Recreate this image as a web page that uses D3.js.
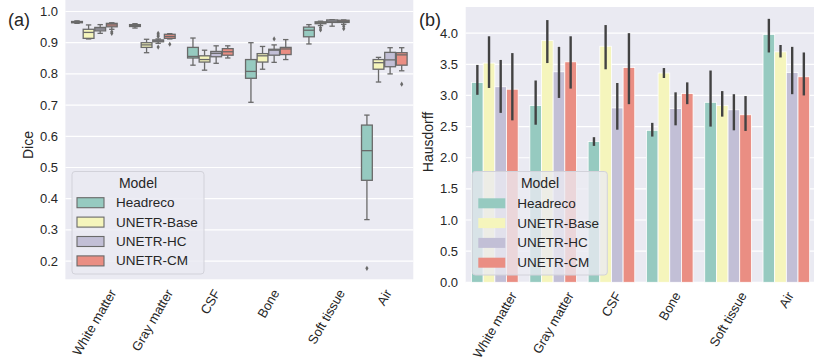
<!DOCTYPE html>
<html><head><meta charset="utf-8">
<script src="https://cdn.jsdelivr.net/npm/d3@7"></script>
<style>
html,body{margin:0;padding:0;background:#fff;}
svg text{font-family:"Liberation Sans",Arial,sans-serif;fill:#262626;}
</style></head>
<body><svg id="c" width="814" height="360"></svg>
<script>
const categories = ["White matter","Gray matter","CSF","Bone","Soft tissue","Air"];
const models = ["Headreco","UNETR-Base","UNETR-HC","UNETR-CM"];
const colors = ["#96cac0","#f5f5bc","#c2bfd6","#ea8e83"];

// Dice box stats per category: [lower whisker, q1, median, q3, upper whisker]
const headrecoBox = [[0.962,0.964,0.966,0.968,0.970],[0.947,0.952,0.955,0.958,0.961],[0.828,0.851,0.856,0.885,0.915],[0.709,0.786,0.808,0.846,0.900],[0.896,0.919,0.940,0.950,0.958],[0.333,0.459,0.554,0.636,0.668]];
const baseBox = [[0.912,0.914,0.933,0.943,0.957],[0.868,0.885,0.893,0.900,0.911],[0.812,0.838,0.846,0.858,0.876],[0.815,0.838,0.858,0.865,0.888],[0.955,0.961,0.964,0.967,0.969],[0.774,0.815,0.836,0.846,0.853]];
const hcBox = [[0.930,0.938,0.944,0.949,0.958],[0.898,0.903,0.906,0.909,0.912],[0.834,0.855,0.866,0.872,0.890],[0.837,0.860,0.876,0.879,0.893],[0.953,0.965,0.969,0.973,0.974],[0.800,0.823,0.845,0.869,0.884]];
const cmBox = [[0.943,0.951,0.957,0.962,0.964],[0.912,0.914,0.920,0.927,0.929],[0.851,0.860,0.871,0.881,0.890],[0.846,0.862,0.880,0.885,0.910],[0.959,0.965,0.968,0.972,0.973],[0.810,0.828,0.861,0.868,0.884]];
const headrecoOut = [[],[],[],[],[],[0.177]];
const baseOut = [[],[],[],[],[0.948,0.941],[]];
const hcOut = [[],[0.930,0.925,0.920,0.886],[],[0.912],[],[]];
const cmOut = [[0.935,0.930],[0.895],[],[],[0.953,0.945],[0.767]];

// Hausdorff means and error-bar bounds
const headrecoHD = [3.21,2.84,2.26,2.44,2.89,3.98];
const headrecoLo = [3.01,2.53,2.19,2.34,2.50,3.69];
const headrecoHi = [3.49,3.24,2.33,2.56,3.40,4.23];
const baseHD = [3.52,3.88,3.79,3.36,2.84,3.70];
const baseLo = [3.12,3.52,3.42,3.28,2.66,3.61];
const baseHi = [3.95,4.21,4.13,3.44,3.07,3.81];
const hcHD = [3.14,3.38,2.80,2.79,2.77,3.37];
const hcLo = [2.72,2.96,2.45,2.52,2.44,3.02];
const hcHi = [3.57,3.78,3.20,3.05,3.02,3.78];
const cmHD = [3.10,3.54,3.45,3.03,2.69,3.30];
const cmLo = [2.60,3.11,2.86,2.86,2.43,3.00];
const cmHi = [3.68,3.95,4.00,3.21,2.99,3.69];

const diceTicks = [0.2,0.3,0.4,0.5,0.6,0.7,0.8,0.9,1.0];
const hdTicks = [0,0.5,1.0,1.5,2.0,2.5,3.0,3.5,4.0];

const boxes = [headrecoBox, baseBox, hcBox, cmBox];
const outs = [headrecoOut, baseOut, hcOut, cmOut];
const means = [headrecoHD, baseHD, hcHD, cmHD];
const los = [headrecoLo, baseLo, hcLo, cmLo];
const his = [headrecoHi, baseHi, hcHi, cmHi];

const svg = d3.select("#c");
const BG = "#eaeaf2", LINE = "#6a6a6a";

function rotatedLabels(g, x, yTop) {
  categories.forEach(c => {
    const t = g.append("text").text(c).attr("font-size", 13)
      .attr("text-anchor", "middle").attr("dominant-baseline", "central");
    const L = t.node().getComputedTextLength();
    const h = 10;
    const H = L * Math.sin(Math.PI/3) + h * Math.cos(Math.PI/3);
    t.attr("transform", `translate(${x(c) + x.bandwidth()/2},${yTop + H/2}) rotate(-60)`);
  });
}

// ---------- Panel (a) ----------
const xA = d3.scaleBand().domain(categories).range([65.4, 413.3]).padding(0);
const yA = d3.scaleLinear().domain([0.1417, 1.0369]).range([279.3, 0]);
const sub = d3.scaleBand().domain(models).range([0, xA.bandwidth()*0.8]).padding(0);
const gA = svg.append("g");
gA.append("rect").attr("x", xA.range()[0]).attr("y", yA.range()[1])
  .attr("width", xA.range()[1]-xA.range()[0]).attr("height", yA.range()[0]-yA.range()[1]).attr("fill", BG);
gA.selectAll("line.grid").data(diceTicks).join("line")
  .attr("x1", xA.range()[0]).attr("x2", xA.range()[1])
  .attr("y1", d => yA(d)).attr("y2", d => yA(d)).attr("stroke", "#fff").attr("stroke-width", 1.2);
gA.selectAll("text.yt").data(diceTicks).join("text")
  .attr("x", 58).attr("y", d => yA(d)).attr("text-anchor", "end").attr("dominant-baseline", "central")
  .attr("font-size", 13).text(d => d3.format(".1f")(d));
gA.append("text").attr("transform", `translate(33,145) rotate(-90)`).attr("text-anchor", "middle")
  .attr("font-size", 14).text("Dice");

models.forEach((m, mi) => {
  categories.forEach((c, ci) => {
    const s = boxes[mi][ci];
    const x0 = xA(c) + xA.bandwidth()*0.1 + sub(m) + 0.4;
    const w = sub.bandwidth() - 0.8;
    const cx = x0 + w/2;
    const g = gA.append("g");
    g.append("line").attr("x1", cx).attr("x2", cx).attr("y1", yA(s[0])).attr("y2", yA(s[1])).attr("stroke", LINE).attr("stroke-width", 1.3);
    g.append("line").attr("x1", cx).attr("x2", cx).attr("y1", yA(s[3])).attr("y2", yA(s[4])).attr("stroke", LINE).attr("stroke-width", 1.3);
    [s[0], s[4]].forEach(v => g.append("line").attr("x1", cx - w/4).attr("x2", cx + w/4)
      .attr("y1", yA(v)).attr("y2", yA(v)).attr("stroke", LINE).attr("stroke-width", 1.3));
    g.append("rect").attr("x", x0).attr("width", w).attr("y", yA(s[3]))
      .attr("height", Math.max(0.5, yA(s[1]) - yA(s[3]))).attr("fill", colors[mi]).attr("stroke", LINE).attr("stroke-width", 1.3);
    g.append("line").attr("x1", x0).attr("x2", x0 + w).attr("y1", yA(s[2])).attr("y2", yA(s[2])).attr("stroke", LINE).attr("stroke-width", 1.3);
    outs[mi][ci].forEach(v => {
      const y = yA(v);
      g.append("path").attr("d", `M${cx},${y-2.6}L${cx+1.6},${y}L${cx},${y+2.6}L${cx-1.6},${y}Z`).attr("fill", LINE);
    });
  });
});
rotatedLabels(gA, xA, 288);

// legend (a)
const lgA = gA.append("g");
lgA.append("rect").attr("x", 72).attr("y", 171.5).attr("width", 132).attr("height", 102.5).attr("rx", 3)
  .attr("fill", BG).attr("fill-opacity", 0.85).attr("stroke", "#d2d2da").attr("stroke-width", 1);
lgA.append("text").attr("x", 138).attr("y", 183).attr("text-anchor", "middle").attr("dominant-baseline", "central")
  .attr("font-size", 14).text("Model");
models.forEach((m, i) => {
  const cy = 202.7 + i*19.4;
  lgA.append("rect").attr("x", 77).attr("y", cy - 5).attr("width", 27).attr("height", 10)
    .attr("fill", colors[i]).attr("stroke", LINE).attr("stroke-width", 1.1);
  lgA.append("text").attr("x", 116).attr("y", cy).attr("dominant-baseline", "central").attr("font-size", 13.5).text(m);
});
svg.append("text").attr("x", 8).attr("y", 26).attr("font-size", 18).text("(a)");

// ---------- Panel (b) ----------
const xB = d3.scaleBand().domain(categories).range([465.7, 815.5]).padding(0);
const yB = d3.scaleLinear().domain([0, 4.42]).range([282.3, 7]);
const subB = d3.scaleBand().domain(models).range([0, xB.bandwidth()*0.8]).padding(0);
const gB = svg.append("g");
gB.append("rect").attr("x", xB.range()[0]).attr("y", yB.range()[1])
  .attr("width", xB.range()[1]-xB.range()[0]).attr("height", yB.range()[0]-yB.range()[1]).attr("fill", BG);
gB.selectAll("line.grid").data(hdTicks).join("line")
  .attr("x1", xB.range()[0]).attr("x2", xB.range()[1])
  .attr("y1", d => yB(d)).attr("y2", d => yB(d)).attr("stroke", "#fff").attr("stroke-width", 1.2);
models.forEach((m, mi) => {
  categories.forEach((c, ci) => {
    const x0 = xB(c) + xB.bandwidth()*0.1 + subB(m);
    const w = subB.bandwidth();
    gB.append("rect").attr("x", x0).attr("width", w).attr("y", yB(means[mi][ci]))
      .attr("height", yB(0) - yB(means[mi][ci])).attr("fill", colors[mi]).attr("stroke", "#fff").attr("stroke-width", 0.8);
  });
});
models.forEach((m, mi) => {
  categories.forEach((c, ci) => {
    const cx = xB(c) + xB.bandwidth()*0.1 + subB(m) + subB.bandwidth()/2;
    gB.append("line").attr("x1", cx).attr("x2", cx).attr("y1", yB(los[mi][ci])).attr("y2", yB(his[mi][ci]))
      .attr("stroke", "#424242").attr("stroke-width", 2.4);
  });
});
gB.selectAll("text.yt").data(hdTicks).join("text")
  .attr("x", 458).attr("y", d => yB(d)).attr("text-anchor", "end").attr("dominant-baseline", "central")
  .attr("font-size", 13).text(d => d3.format(".1f")(d));
gB.append("text").attr("transform", `translate(433,142) rotate(-90)`).attr("text-anchor", "middle")
  .attr("font-size", 14).text("Hausdorff");
rotatedLabels(gB, xB, 290.5);

const lgB = gB.append("g");
lgB.append("rect").attr("x", 472.3).attr("y", 171.5).attr("width", 135).attr("height", 103.5).attr("rx", 3)
  .attr("fill", BG).attr("fill-opacity", 0.78).attr("stroke", "#d2d2da").attr("stroke-width", 1);
lgB.append("text").attr("x", 540).attr("y", 183.3).attr("text-anchor", "middle").attr("dominant-baseline", "central")
  .attr("font-size", 14).text("Model");
models.forEach((m, i) => {
  const cy = 203.3 + i*19.8;
  lgB.append("rect").attr("x", 478.3).attr("y", cy - 5).attr("width", 27).attr("height", 10)
    .attr("fill", colors[i]);
  lgB.append("text").attr("x", 517.3).attr("y", cy).attr("dominant-baseline", "central").attr("font-size", 13.5).text(m);
});
svg.append("text").attr("x", 419).attr("y", 26).attr("font-size", 18).text("(b)");
</script></body></html>
